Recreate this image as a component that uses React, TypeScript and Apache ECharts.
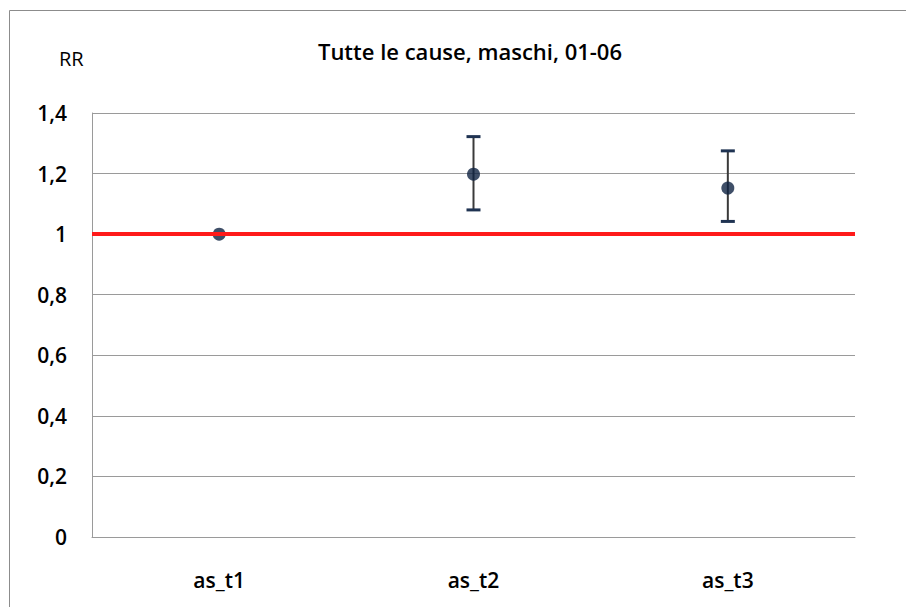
import React, { useEffect, useRef } from "react";
import * as echarts from "echarts";

const categories = ["as_t1", "as_t2", "as_t3"];
const rrValues = [1.0, 1.198, 1.152];
const lowerCI = [1.0, 1.08, 1.042];
const upperCI = [1.0, 1.322, 1.275];
const referenceValue = 1;
const yTicks = { min: 0, max: 1.4, interval: 0.2 };
const titleText = "Tutte le cause, maschi, 01-06";
const yAxisName = "RR";

export default function App() {
  const ref = useRef<HTMLDivElement>(null);
  useEffect(() => {
    document.body.style.margin = "0";
    const chart = echarts.init(ref.current!, null, { renderer: "svg" });
    const font = "'Open Sans', 'Liberation Sans', sans-serif";
    const errData = categories.map((_, i) => [i, lowerCI[i], upperCI[i]]);
    chart.setOption({
      animation: false,
      backgroundColor: "#ffffff",
      title: {
        text: titleText,
        left: 465,
        top: 35,
        textAlign: "center",
        textStyle: { fontFamily: font, fontSize: 22, fontWeight: 600, color: "#000" },
      },
      graphic: [
        {
          type: "rect",
          shape: { x: 9.5, y: 10.5, width: 1000, height: 1000 },
          style: { fill: "none", stroke: "#8c8c8c", lineWidth: 1 },
          silent: true,
          z: -10,
        },
        {
          type: "text",
          left: 59,
          top: 48,
          style: { text: yAxisName, fontFamily: font, fontSize: 20, fill: "#000" },
        },
      ],
      grid: { left: 92, right: 51, top: 113, bottom: 70 },
      xAxis: {
        type: "category",
        data: categories,
        boundaryGap: true,
        axisLine: { lineStyle: { color: "#9a9a9a", width: 1 } },
        axisTick: { show: false },
        axisLabel: { fontFamily: font, fontSize: 21, fontWeight: 600, color: "#000", margin: 32 },
        splitLine: { show: false },
      },
      yAxis: {
        type: "value",
        min: yTicks.min,
        max: yTicks.max,
        interval: yTicks.interval,
        axisLine: { show: true, lineStyle: { color: "#9a9a9a", width: 1 } },
        axisTick: { show: false },
        axisLabel: {
          fontFamily: font,
          fontSize: 21,
          fontWeight: 600,
          color: "#000",
          margin: 25,
          formatter: (v: number) => {
            const r = Math.round(v * 10) / 10;
            return Number.isInteger(r) ? String(r) : r.toFixed(1).replace(".", ",");
          },
        },
        splitLine: { lineStyle: { color: "#9a9a9a", width: 1 } },
      },
      series: [
        {
          type: "custom",
          name: "CI",
          data: errData,
          z: 2,
          renderItem: (params: any, api: any) => {
            const x = api.value(0);
            const lo = api.coord([x, api.value(1)]);
            const hi = api.coord([x, api.value(2)]);
            if (Math.abs(hi[1] - lo[1]) < 1) return { type: "group", children: [] };
            const w = 7;
            return {
              type: "group",
              children: [
                {
                  type: "line",
                  shape: { x1: lo[0], y1: lo[1], x2: hi[0], y2: hi[1] },
                  style: { stroke: "#3a3a3a", lineWidth: 2 },
                },
                {
                  type: "line",
                  shape: { x1: hi[0] - w, y1: hi[1], x2: hi[0] + w, y2: hi[1] },
                  style: { stroke: "#1f3352", lineWidth: 3 },
                },
                {
                  type: "line",
                  shape: { x1: lo[0] - w, y1: lo[1], x2: lo[0] + w, y2: lo[1] },
                  style: { stroke: "#1f3352", lineWidth: 3 },
                },
              ],
            };
          },
        },
        {
          type: "scatter",
          name: "RR",
          data: rrValues,
          symbol: "circle",
          symbolSize: 13,
          itemStyle: { color: "#0f2342" },
          z: 3,
        },
        {
          type: "line",
          name: "ref",
          data: [],
          z: 5,
          markLine: {
            silent: true,
            symbol: "none",
            label: { show: false },
            z: 5,
            lineStyle: { color: "#ff1a1a", width: 4, type: "solid" },
            data: [{ yAxis: referenceValue }],
          },
        },
      ],
    });
    return () => chart.dispose();
  }, []);
  return <div ref={ref} style={{ width: 906, height: 607 }} />;
}
